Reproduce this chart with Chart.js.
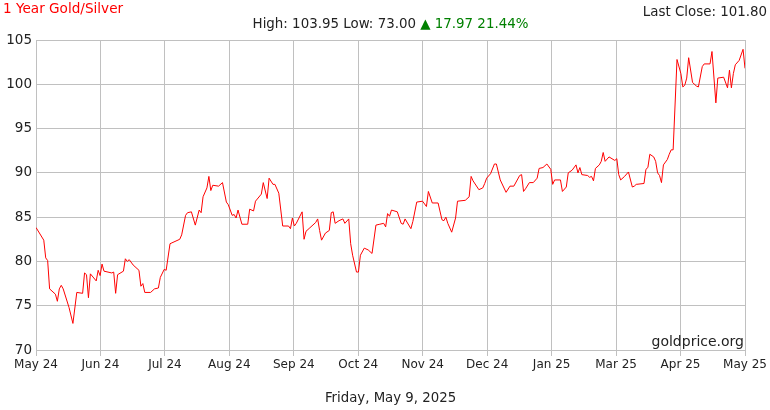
<!DOCTYPE html>
<html>
<head>
<meta charset="utf-8">
<script src="https://cdn.jsdelivr.net/npm/chart.js@4.4.1/dist/chart.umd.min.js"></script>
<style>
  html, body { margin: 0; padding: 0; background: #fff; }
  #wrap { width: 770px; height: 410px; }
</style>
</head>
<body>
<div id="wrap"><canvas id="ratioChart" width="770" height="410"></canvas></div>
<script>
// jours depuis le 9 mai 2024 et ratio or/argent
const days = [
  0, 4, 5, 6, 7, 10, 11, 12, 13, 14,
  17, 19, 21, 24, 25, 26, 27, 28, 31, 32,
  33, 34, 35, 39, 40, 41, 42, 45, 46, 47,
  48, 50, 53, 54, 55, 56, 59, 61, 63, 64,
  66, 67, 69, 70, 74, 75, 77, 78, 80, 82,
  84, 85, 86, 88, 89, 90, 91, 94, 96, 98,
  99, 101, 102, 103, 104, 106, 109, 110, 112, 113,
  116, 117, 119, 120, 122, 123, 125, 127, 130, 131,
  132, 133, 134, 137, 138, 139, 141, 144, 145, 146,
  147, 149, 151, 152, 153, 154, 156, 158, 159, 161,
  162, 163, 165, 166, 167, 169, 171, 173, 175, 177,
  179, 180, 181, 182, 183, 186, 188, 189, 190, 193,
  194, 196, 199, 201, 202, 204, 207, 209, 210, 211,
  212, 214, 216, 217, 221, 223, 224, 225, 228, 230,
  231, 232, 234, 236, 237, 239, 242, 244, 246, 249,
  250, 251, 252, 254, 256, 258, 259, 261, 263, 265,
  266, 267, 270, 271, 273, 274, 276, 278, 279, 280,
  281, 284, 285, 286, 287, 288, 290, 291, 292, 293,
  295, 298, 299, 300, 301, 303, 305, 307, 308, 309,
  313, 314, 315, 316, 318, 319, 320, 321, 322, 323,
  325, 326, 327, 328, 330, 332, 333, 334, 335, 336,
  338, 340, 341, 343, 344, 347, 348, 350, 351, 354,
  356, 357, 358, 359, 360, 362, 364, 365
];
const ratio = [
  83.83, 82.4, 80.4, 80.1, 76.9, 76.3, 75.5, 76.9, 77.3, 76.9,
  74.8, 73.0, 76.5, 76.4, 78.7, 78.5, 75.9, 78.6, 77.8, 79.0,
  78.4, 79.7, 78.9, 78.7, 78.8, 76.4, 78.5, 78.9, 80.3, 80.0,
  80.2, 79.6, 79.0, 77.2, 77.5, 76.5, 76.5, 76.9, 77.0, 78.2,
  79.1, 79.0, 82.0, 82.1, 82.5, 83.0, 85.2, 85.5, 85.6, 84.1,
  85.8, 85.5, 87.3, 88.3, 89.6, 88.0, 88.6, 88.5, 88.9, 86.7,
  86.4, 85.2, 85.3, 84.9, 85.8, 84.2, 84.2, 85.9, 85.7, 86.8,
  87.6, 88.9, 87.1, 89.4, 88.7, 88.7, 87.7, 84.0, 84.0, 83.7,
  84.9, 84.0, 84.3, 85.6, 82.5, 83.4, 83.8, 84.4, 84.8, 83.5,
  82.4, 83.2, 83.5, 85.5, 85.6, 84.3, 84.6, 84.8, 84.3, 84.8,
  82.0, 80.7, 78.8, 78.8, 80.7, 81.5, 81.3, 80.9, 84.1, 84.2,
  84.3, 83.9, 85.4, 85.1, 85.8, 85.6, 84.3, 84.2, 84.8, 83.7,
  84.5, 86.7, 86.8, 86.2, 87.9, 86.6, 86.6, 84.7, 84.6, 85.0,
  84.3, 83.3, 84.9, 86.8, 86.9, 87.3, 89.6, 89.1, 88.1, 88.3,
  88.8, 89.4, 89.9, 91.0, 91.0, 89.2, 87.8, 88.5, 88.5, 89.7,
  89.8, 87.9, 88.2, 88.9, 88.9, 89.4, 90.5, 90.6, 91.0, 90.4,
  88.7, 89.2, 89.2, 87.9, 88.4, 90.0, 90.3, 90.9, 90.0, 90.6,
  89.8, 89.7, 89.5, 89.6, 89.1, 90.5, 90.9, 91.3, 92.3, 91.3,
  91.8, 91.4, 91.6, 89.8, 89.2, 89.6, 90.1, 88.4, 88.5, 88.7,
  88.8, 90.4, 90.6, 92.1, 91.8, 91.3, 90.0, 89.7, 88.9, 90.9,
  91.5, 92.1, 92.6, 92.6, 102.8, 101.2, 99.7, 99.9, 100.7, 103.0,
  100.2, 99.8, 99.7, 102.0, 102.3, 102.3, 103.7, 97.9, 100.7, 100.8,
  99.6, 101.6, 99.6, 101.2, 102.2, 102.7, 103.95, 101.8
];
const tickLabels = ['May 24', 'Jun 24', 'Jul 24', 'Aug 24', 'Sep 24', 'Oct 24',
                    'Nov 24', 'Dec 24', 'Jan 25', 'Mar 25', 'Apr 25', 'May 25'];
const yTicks = [70, 75, 80, 85, 90, 95, 100, 105];

const titre = '1 Year Gold/Silver';
const dernier = 'Last Close: 101.80';
const hautBas = 'High: 103.95 Low: 73.00 ';
const variation = '\u25B2 17.97 21.44%';
const source = 'goldprice.org';
const dateTexte = 'Friday, May 9, 2025';

const FONT = '"DejaVu Sans", Verdana, sans-serif';
const spanDays = days[days.length - 1];

// textes autour du graphique
const textes = {
  id: 'textes',
  afterDraw(chart) {
    const { ctx, chartArea } = chart;
    const centre = (chartArea.left + chartArea.right) / 2;
    ctx.save();
    ctx.textBaseline = 'middle';

    ctx.font = '13.6px ' + FONT;
    ctx.fillStyle = '#ff0000';
    ctx.textAlign = 'left';
    ctx.fillText(titre, 3, 9);

    ctx.font = '13.4px ' + FONT;
    ctx.fillStyle = '#222';
    ctx.textAlign = 'right';
    ctx.fillText(dernier, 767, 13);

    const w1 = ctx.measureText(hautBas).width;
    const w2 = ctx.measureText(variation).width;
    let x0 = centre - (w1 + w2) / 2;
    ctx.textAlign = 'left';
    ctx.fillStyle = '#222';
    ctx.fillText(hautBas, x0, 25);
    ctx.fillStyle = '#008000';
    ctx.fillText(variation, x0 + w1, 25);

    ctx.font = '13.3px ' + FONT;
    ctx.fillStyle = '#222';
    ctx.textAlign = 'center';
    ctx.fillText(dateTexte, centre, 399);

    ctx.font = '14px ' + FONT;
    ctx.textAlign = 'right';
    ctx.fillText(source, chartArea.right - 1, 342);
    ctx.restore();
  }
};

const ctx = document.getElementById('ratioChart').getContext('2d');
new Chart(ctx, {
  type: 'line',
  data: {
    datasets: [{
      data: days.map((d, i) => ({ x: d, y: ratio[i] })),
      borderColor: '#ff0000',
      borderWidth: 1,
      pointRadius: 0,
      tension: 0,
      fill: false
    }]
  },
  options: {
    responsive: false,
    animation: false,
    layout: { padding: { left: 0, right: 25, top: 40, bottom: 30 } },
    plugins: {
      legend: { display: false },
      tooltip: { enabled: false }
    },
    scales: {
      x: {
        type: 'linear',
        min: 0,
        max: spanDays,
        afterBuildTicks(scale) {
          scale.ticks = tickLabels.map((_, i) => ({ value: i * spanDays / (tickLabels.length - 1) }));
        },
        afterFit(scale) { scale.height = 30; },
        ticks: {
          autoSkip: false,
          maxRotation: 0,
          color: '#222',
          font: { family: FONT, size: 12 },
          padding: 2,
          callback: (v, i) => tickLabels[i]
        },
        grid: { color: '#c0c0c0', lineWidth: 1, tickLength: 6 },
        border: { color: '#c0c0c0' }
      },
      y: {
        min: 70,
        max: 105,
        afterBuildTicks(scale) {
          scale.ticks = yTicks.map(v => ({ value: v }));
        },
        afterFit(scale) { scale.width = 36; },
        ticks: {
          color: '#222',
          font: { family: FONT, size: 13.5 },
          padding: 4
        },
        grid: { color: '#c0c0c0', lineWidth: 1, tickLength: 0 },
        border: { color: '#c0c0c0' }
      }
    }
  },
  plugins: [textes]
});
</script>
</body>
</html>
